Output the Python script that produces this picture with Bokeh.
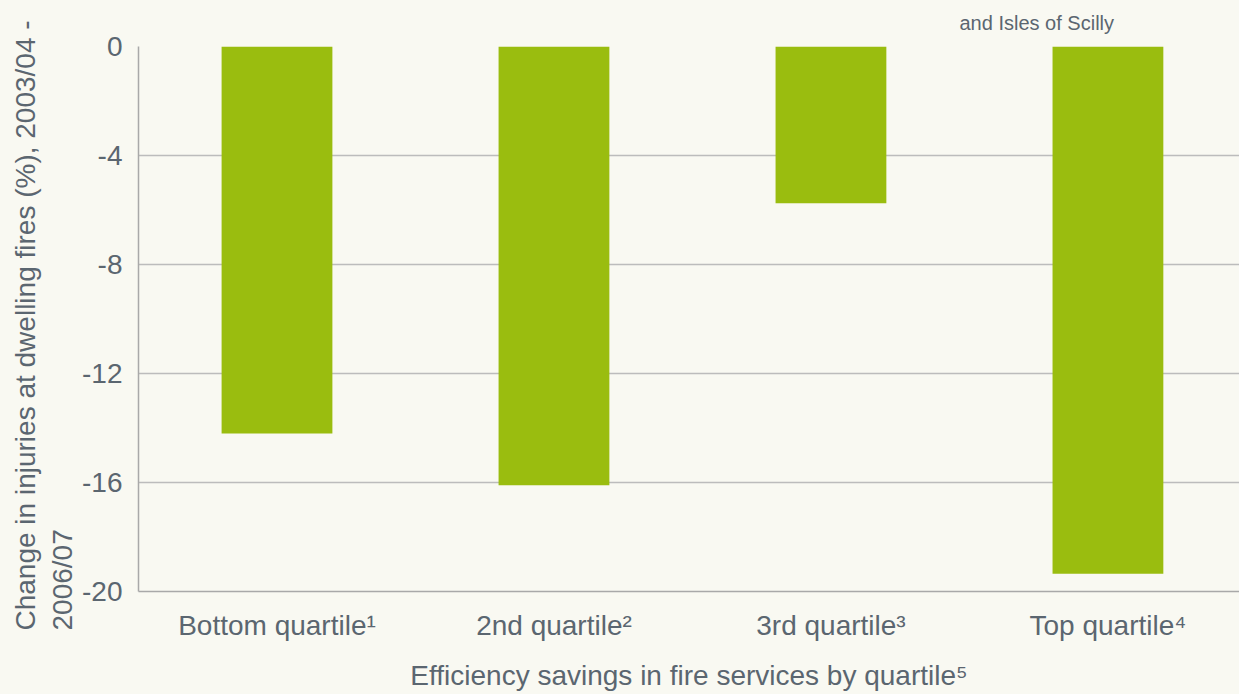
from bokeh.plotting import figure
from bokeh.models import Range1d, FixedTicker, Title, ColumnDataSource
from bokeh.embed import file_html
from bokeh.resources import INLINE

# ---- data ----
categories = ["Bottom quartile\u00b9", "2nd quartile\u00b2", "3rd quartile\u00b3", "Top quartile\u2074"]
changes = [-14.2, -16.1, -5.75, -19.35]
y_ticks = [0, -4, -8, -12, -16, -20]
y_title_lines = ["Change in injuries at dwelling fires (%), 2003/04 -", "2006/07"]
x_title = "Efficiency savings in fire services by quartile\u2075"
note_text = "and Isles of Scilly"

BG = "#f9f9f2"
BAR = "#9abd0f"
TXT = "#5b6670"
FONT = "Liberation Sans"

xs = [i + 0.5 for i in range(len(categories))]
src = ColumnDataSource(dict(x=xs, v=changes, cat=categories))

p = figure(width=1239, height=694, output_backend="svg", toolbar_location=None,
           x_range=Range1d(0, 3.975), y_range=Range1d(-20, 0),
           min_border_left=138, min_border_top=45, min_border_bottom=103,
           min_border_right=0)
p.background_fill_color = BG
p.border_fill_color = BG
p.outline_line_color = None

p.vbar(x="x", top=0, bottom="v", width=0.4, source=src, fill_color=BAR, line_color=None)

# axes
p.yaxis.ticker = FixedTicker(ticks=y_ticks)
p.xaxis.ticker = FixedTicker(ticks=xs)
p.xaxis.major_label_overrides = {x: c for x, c in zip(xs, categories)}
p.yaxis.major_label_overrides = {t: str(t) for t in y_ticks}

for ax in (p.xaxis[0], p.yaxis[0]):
    ax.major_tick_line_color = None
    ax.minor_tick_line_color = None
    ax.axis_line_color = "#a9a9a9"
    ax.axis_line_width = 1.5
    ax.major_label_text_font = FONT
    ax.major_label_text_font_size = "28px"
    ax.major_label_text_color = TXT
    ax.axis_label_text_font = FONT
    ax.axis_label_text_font_size = "28px"
    ax.axis_label_text_font_style = "normal"
    ax.axis_label_text_color = TXT

p.xaxis.major_label_standoff = 12
p.xaxis.axis_label = x_title
p.xaxis.axis_label_standoff = 16
p.yaxis.major_label_standoff = 10

p.xgrid.grid_line_color = None
p.ygrid.ticker = FixedTicker(ticks=y_ticks)
p.ygrid.grid_line_color = "#bcbcbc"
p.ygrid.grid_line_width = 1.5

# y-axis title, two lines, both starting at the bottom
for txt in reversed(y_title_lines):
    t = Title(text=txt, align="left", offset=-39, standoff=4,
              text_font=FONT, text_font_size="28px", text_font_style="normal",
              text_color=TXT)
    p.add_layout(t, "left")

note = Title(text=note_text, align="left", offset=821, standoff=22,
             vertical_align="top",
             text_font=FONT, text_font_size="20px", text_font_style="normal",
             text_color=TXT)
p.add_layout(note, "above")

html = file_html(p, INLINE)
html = html.replace("<head>", "<head><style>html,body{background:%s;}</style>" % BG, 1)
open("out.html", "w").write(html)
